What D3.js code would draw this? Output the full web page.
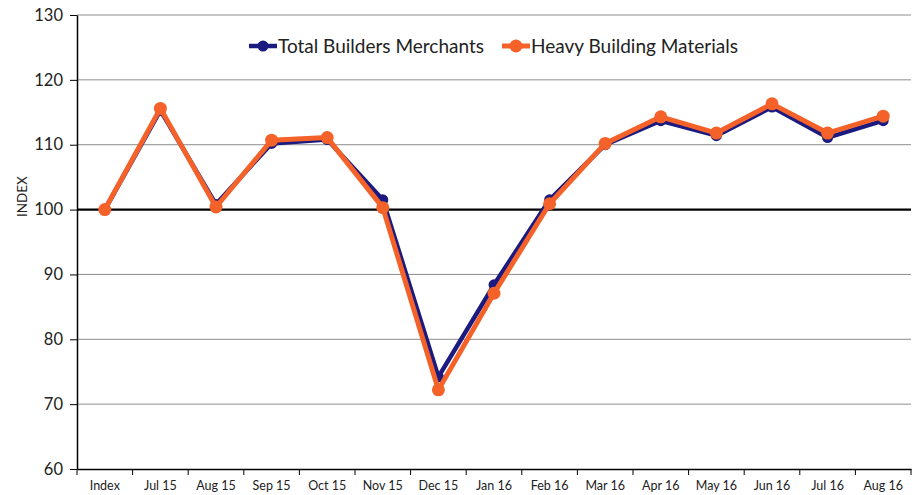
<!DOCTYPE html>
<meta charset="utf-8">
<style>
body { margin: 0; background: #fff; }
svg text { font-family: Lato, "Open Sans", sans-serif; }
.grid line { stroke: #8c8c8c; stroke-width: 1; }
.axis path, .axis line { stroke: #000; }
</style>
<svg width="918" height="495"></svg>
<script src="https://d3js.org/d3.v7.min.js"></script>
<script>

var months = ["Index", "Jul 15", "Aug 15", "Sep 15", "Oct 15", "Nov 15", "Dec 15", "Jan 16",
              "Feb 16", "Mar 16", "Apr 16", "May 16", "Jun 16", "Jul 16", "Aug 16"];
var totalMerchants = [100, 115.3, 100.8, 110.2, 110.8, 101.5, 74.2, 88.4, 101.5, 110.0, 113.7, 111.4, 115.8, 111.1, 113.7];
var heavyMaterials = [100, 115.6, 100.4, 110.7, 111.1, 100.3, 72.2, 87.1, 100.9, 110.2, 114.3, 111.8, 116.3, 111.8, 114.4];
var yTicks = [60, 70, 80, 90, 100, 110, 120, 130];

var svg = d3.select("svg"),
    margin = {top: 15, right: 7, bottom: 26, left: 77},
    width = 918 - margin.left - margin.right,
    height = 495 - margin.top - margin.bottom;

var x = d3.scaleBand().domain(months).range([0, width]).padding(0),
    y = d3.scaleLinear().domain([60, 130]).range([height, 0]);

var g = svg.append("g")
    .attr("transform", "translate(" + margin.left + "," + margin.top + ")");

// gridlines
g.append("g")
    .attr("class", "grid")
    .selectAll("line")
    .data(yTicks.filter(function(d) { return d != 60 && d != 100; }))
    .enter().append("line")
      .attr("x1", 0)
      .attr("x2", width)
      .attr("y1", function(d) { return y(d); })
      .attr("y2", function(d) { return y(d); });

// y axis
g.append("g")
    .attr("class", "axis")
    .call(d3.axisLeft(y).tickValues(yTicks).tickSize(7).tickSizeOuter(0).tickPadding(7))
    .call(function(a) { a.select(".domain").attr("stroke-width", 1.5); })
    .selectAll("text")
      .style("font-size", "16.5px")
      .attr("fill", "#222");

g.append("text")
    .attr("transform", "translate(" + (22 - margin.left) + "," + y(102) + ") rotate(-90)")
    .attr("text-anchor", "middle")
    .attr("dy", "0.35em")
    .style("font-size", "13.5px")
    .attr("fill", "#222")
    .text("INDEX");

// x axis: labels centred in bands, ticks at band edges
var xa = g.append("g")
    .attr("class", "axis")
    .attr("transform", "translate(0," + height + ")");
xa.call(d3.axisBottom(x).tickSize(0).tickPadding(12))
    .call(function(a) { a.select(".domain").attr("stroke-width", 1.5); })
    .selectAll("text")
      .style("font-size", "12.5px")
      .attr("fill", "#222");
xa.selectAll(".edge")
    .data(months.concat(["end"]))
    .enter().append("line")
      .attr("class", "edge")
      .attr("x1", function(d, i) { return i * x.step(); })
      .attr("x2", function(d, i) { return i * x.step(); })
      .attr("y1", 0)
      .attr("y2", 6)
      .attr("stroke", "#000");

// 100 baseline
g.append("line")
    .attr("x1", 0)
    .attr("x2", width)
    .attr("y1", y(100))
    .attr("y2", y(100))
    .attr("stroke", "#000")
    .attr("stroke-width", 2.2);

var series = [
  {key: "tbm", name: "Total Builders Merchants", values: totalMerchants, color: "#1a1a80", w: 4.5, r: 5.5},
  {key: "hbm", name: "Heavy Building Materials", values: heavyMaterials, color: "#f4622a", w: 5, r: 6.5}
];

var line = d3.line()
    .x(function(d, i) { return x(months[i]) + x.bandwidth() / 2; })
    .y(function(d) { return y(d); });

series.forEach(function(s) {
  g.append("path")
      .datum(s.values)
      .attr("fill", "none")
      .attr("stroke", s.color)
      .attr("stroke-width", s.w)
      .attr("stroke-linejoin", "round")
      .attr("d", line);
  g.selectAll(".pt-" + s.key)
    .data(s.values)
    .enter().append("circle")
      .attr("class", "pt-" + s.key)
      .attr("cx", function(d, i) { return x(months[i]) + x.bandwidth() / 2; })
      .attr("cy", function(d) { return y(d); })
      .attr("r", s.r)
      .attr("fill", s.color);
});

// legend
var legendX = [249, 502];
series.forEach(function(s, i) {
  var lg = svg.append("g").attr("transform", "translate(" + legendX[i] + ",46)");
  lg.append("line")
      .attr("x1", 0).attr("x2", 28)
      .attr("stroke", s.color)
      .attr("stroke-width", s.w);
  lg.append("circle").attr("cx", 14).attr("r", s.r).attr("fill", s.color);
  lg.append("text")
      .attr("x", 29)
      .attr("dy", "0.35em")
      .style("font-size", "19px")
      .attr("fill", "#222")
      .text(s.name);
});

</script>
